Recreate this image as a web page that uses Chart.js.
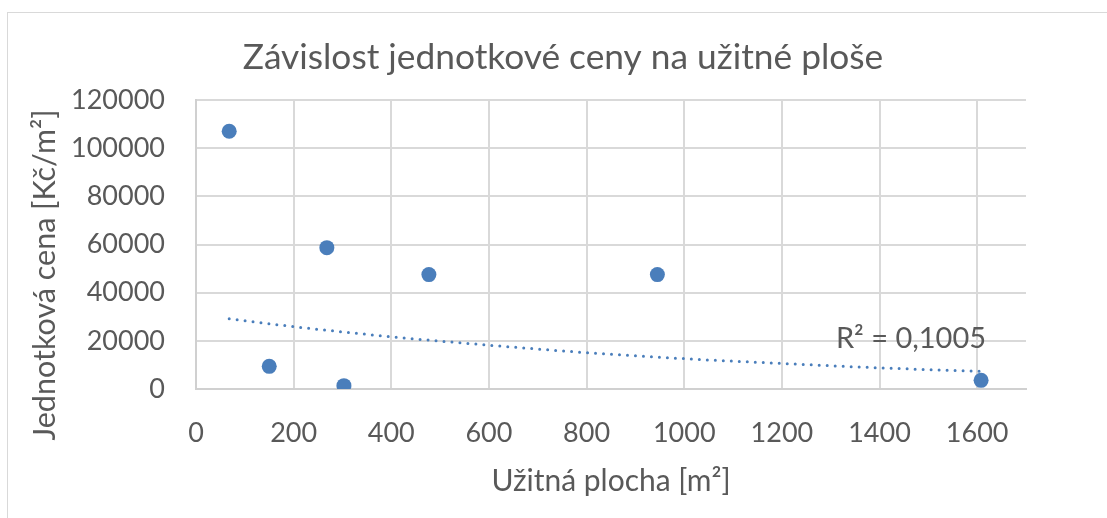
<!DOCTYPE html>
<html lang="cs">
<head>
<meta charset="UTF-8">
<title>Závislost jednotkové ceny na užitné ploše</title>
<script src="https://cdn.jsdelivr.net/npm/chart.js"></script>
<style>
  html, body { margin: 0; padding: 0; background: #fff; }
  #wrap { width: 1107px; height: 518px; position: relative; }
</style>
</head>
<body>
<div id="wrap"><canvas id="c"></canvas></div>
<script>
// measured points: usable area [m2] vs unit price [Kč/m2]
const area = [68, 150, 268, 303, 477, 945, 1608];
const unitPrice = [107000, 9400, 58700, 1400, 47500, 47500, 3600];

// exponential trendline
const trendX = [68, 200, 400, 600, 800, 1000, 1200, 1400, 1608];
const trendY = [29200, 25900, 21700, 18200, 15100, 12600, 10600, 8800, 7300];
const rSquared = '0,1005';

const chartTitle = 'Závislost jednotkové ceny na užitné ploše';
const yTitle = 'Jednotková cena [Kč/m²]';
const xTitle = 'Užitná plocha [m²]';

const grey = '#595959';
const blue = '#4a7ebb';
const fontFam = 'Lato, "Noto Sans", sans-serif';

// frame + titles the way Excel places them (centred on the frame, not the plot)
const frame = {
  id: 'frame',
  beforeDraw(chart) {
    const ctx = chart.ctx;
    ctx.save();
    ctx.fillStyle = '#fff';
    ctx.fillRect(0, 0, chart.width, chart.height);
    ctx.strokeStyle = '#d9d9d9';
    ctx.lineWidth = 1;
    ctx.strokeRect(7.5, 12.5, 1300, 700);
    ctx.restore();
  },
  afterDraw(chart) {
    const ctx = chart.ctx;
    ctx.save();
    ctx.fillStyle = grey;
    ctx.textAlign = 'center';
    ctx.textBaseline = 'middle';
    ctx.font = '35.3px ' + fontFam;
    ctx.fillText(chartTitle, 563, 58);
    ctx.translate(45, 275);
    ctx.rotate(-Math.PI / 2);
    ctx.font = '30.5px ' + fontFam;
    ctx.fillText(yTitle, 0, 0);
    ctx.restore();
  }
};

const r2Label = {
  id: 'r2Label',
  afterDatasetsDraw(chart) {
    const xs = chart.scales.x, ys = chart.scales.y;
    const px = xs.getPixelForValue(trendX[trendX.length - 1]);
    const py = ys.getPixelForValue(trendY[trendY.length - 1]);
    const ctx = chart.ctx;
    ctx.save();
    ctx.font = '29px ' + fontFam;
    ctx.fillStyle = grey;
    ctx.textAlign = 'right';
    ctx.textBaseline = 'alphabetic';
    ctx.fillText('R\u00B2 = ' + rSquared, px + 5, py - 23);
    ctx.restore();
  }
};

new Chart(document.getElementById('c'), {
  type: 'scatter',
  data: {
    datasets: [{
      label: 'data',
      data: area.map((x, i) => ({ x: x, y: unitPrice[i] })),
      backgroundColor: blue,
      borderColor: blue,
      borderWidth: 0,
      pointRadius: 7.5,
      pointHoverRadius: 7.5,
      order: 0
    }, {
      label: 'trend',
      type: 'line',
      data: trendX.map((x, i) => ({ x: x, y: trendY[i] })),
      borderColor: blue,
      borderWidth: 3,
      borderDash: [0, 8],
      borderCapStyle: 'round',
      cubicInterpolationMode: 'monotone',
      pointRadius: 0,
      fill: false,
      order: 1
    }]
  },
  options: {
    responsive: true,
    maintainAspectRatio: false,
    animation: false,
    layout: { padding: { top: 100, right: 81, left: 0, bottom: 0 } },
    plugins: {
      legend: { display: false },
      tooltip: { enabled: false },
      title: { display: false }
    },
    scales: {
      x: {
        type: 'linear',
        min: 0,
        max: 1700,
        afterFit(s) { s.height = 129; },
        ticks: { stepSize: 200, includeBounds: false, padding: 28, color: grey,
                 font: { family: fontFam, size: 27 },
                 callback: v => String(v) },
        grid: { color: '#d9d9d9', lineWidth: 2, drawTicks: false },
        border: { color: '#d0d0d0', width: 2 },
        title: {
          display: true,
          text: xTitle,
          color: grey,
          font: { family: fontFam, size: 30, lineHeight: 1.2 },
          padding: { top: 0, bottom: 19 }
        }
      },
      y: {
        min: 0,
        max: 120000,
        afterFit(s) { s.width = 196; },
        ticks: { stepSize: 20000, padding: 31, color: grey,
                 font: { family: fontFam, size: 27 },
                 callback: v => String(v) },
        grid: { color: '#d9d9d9', lineWidth: 2, drawTicks: false },
        border: { color: '#d0d0d0', width: 2 },
        title: { display: false }
      }
    }
  },
  plugins: [frame, r2Label]
});
</script>
</body>
</html>
